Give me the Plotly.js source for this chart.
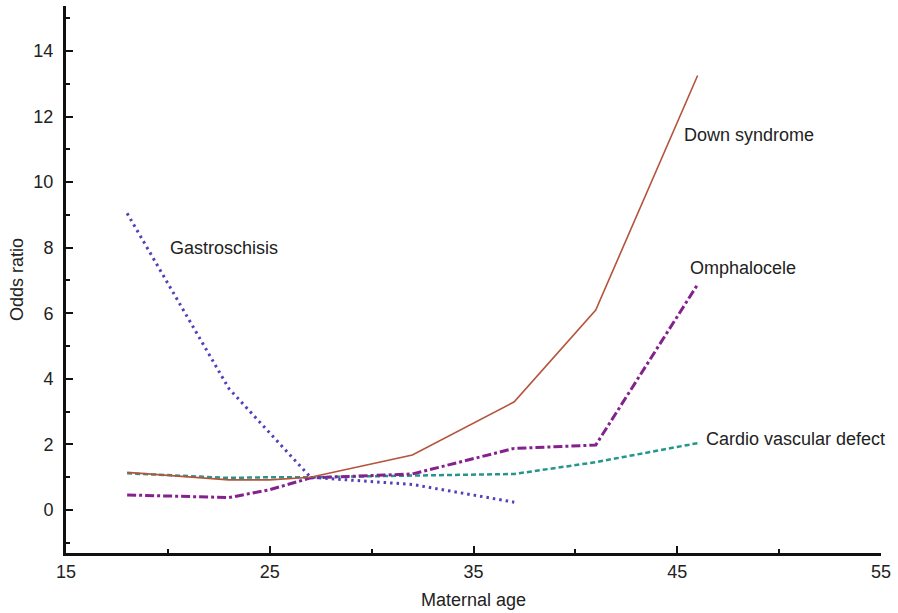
<!DOCTYPE html>
<html>
<head>
<meta charset="utf-8">
<script src="https://cdn.plot.ly/plotly-3.0.1.min.js"></script>
<style>html,body{margin:0;padding:0;background:#fff}#chart{width:898px;height:613px}</style>
</head>
<body>
<div id="chart"></div>
<script>
// Data
const ages = [18, 23, 25, 27, 32, 37, 41, 46];
const downSyndrome = [1.15, 0.92, 0.92, 1.0, 1.68, 3.3, 6.1, 13.25];
const omphalocele = [0.46, 0.38, 0.62, 0.98, 1.1, 1.88, 1.98, 6.88];
const cardioVascular = [1.12, 0.98, 1.0, 1.0, 1.05, 1.1, 1.46, 2.04];
const gastroAges = [18, 23, 27, 32, 37];
const gastroschisis = [9.05, 3.7, 1.0, 0.78, 0.24];

const labelNames = ["Down syndrome", "Omphalocele", "Cardio vascular defect", "Gastroschisis"];
const labelX = [45.23, 45.53, 46.31, 20.0];
const labelY = [11.43, 7.38, 2.16, 7.99];

const xTickVals = [15, 25, 35, 45, 55];
const yTickVals = [0, 2, 4, 6, 8, 10, 12, 14];

const font = "Liberation Sans, Arial, Helvetica, sans-serif";

const traces = [
  {x: ages, y: cardioVascular, mode: 'lines', line: {color: '#24968a', width: 2.5, dash: '5px,3px'}},
  {x: ages, y: omphalocele, mode: 'lines', line: {color: '#85208f', width: 3, dash: 'dashdot'}},
  {x: gastroAges, y: gastroschisis, mode: 'lines', line: {color: '#4f42b8', width: 3, dash: '2.5px,4px'}},
  {x: ages, y: downSyndrome, mode: 'lines', line: {color: '#b5533c', width: 1.6}}
];

const layout = {
  width: 898, height: 613,
  margin: {l: 66, r: 17, t: 6, b: 60},
  paper_bgcolor: '#fff', plot_bgcolor: '#fff',
  showlegend: false,
  font: {family: font, size: 18, color: '#222'},
  xaxis: {
    range: [15, 55], tickvals: xTickVals, ticktext: xTickVals.map(String),
    showgrid: false, zeroline: false, showline: true, linewidth: 3, linecolor: '#111',
    ticks: 'inside', ticklen: 7, tickwidth: 2, tickcolor: '#111',
    minor: {tickvals: [20, 30, 40, 50], ticks: 'inside', ticklen: 4, tickwidth: 2, tickcolor: '#111'},
    ticklabelstandoff: 0,
    title: {text: 'Maternal age', font: {size: 18, color: '#222'}, standoff: 13}
  },
  yaxis: {
    range: [-1.31, 15.37], tickvals: yTickVals, ticktext: yTickVals.map(String),
    showgrid: false, zeroline: false, showline: true, linewidth: 3, linecolor: '#111',
    ticks: 'inside', ticklen: 7, tickwidth: 2, tickcolor: '#111',
    minor: {tickvals: [-1, 1, 3, 5, 7, 9, 11, 13, 15], ticks: 'inside', ticklen: 4, tickwidth: 2, tickcolor: '#111'},
    ticklabelstandoff: 6,
    title: {text: 'Odds ratio', font: {size: 18, color: '#222'}, standoff: 6}
  },
  annotations: labelNames.map((t, i) => ({
    x: labelX[i], y: labelY[i], xref: 'x', yref: 'y', text: t, showarrow: false,
    xanchor: 'left', yanchor: 'middle', font: {size: 18, color: '#222'}
  }))
};

Plotly.newPlot('chart', traces, layout, {displayModeBar: false, staticPlot: true});
</script>
</body>
</html>
